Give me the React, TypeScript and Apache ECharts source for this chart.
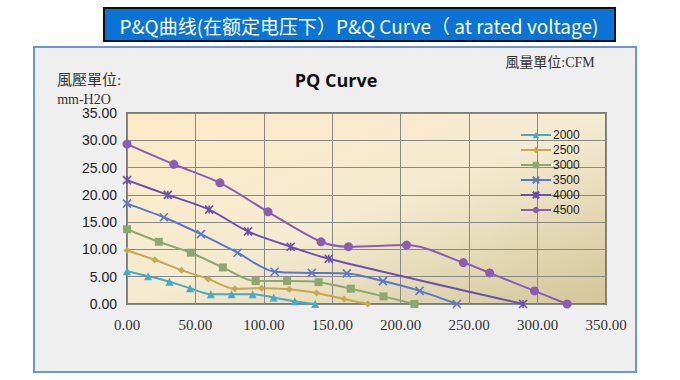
import React, { useEffect, useRef } from "react";
import * as echarts from "echarts";

const seriesNames = ["2000", "2500", "3000", "3500", "4000", "4500"];
const cfm2000 = [0, 15.4, 31, 46.1, 61.3, 76.4, 91.8, 107.2, 122.6, 137.5];
const p2000 = [6.0, 5.1, 4.1, 2.9, 1.8, 1.8, 1.8, 1.2, 0.5, 0];
const cfm2500 = [0, 20.3, 39.8, 59.3, 78.8, 98.4, 118.6, 138.6, 158.6, 176];
const p2500 = [9.8, 8.1, 6.2, 4.6, 2.8, 2.9, 2.7, 2.0, 0.9, 0];
const cfm3000 = [0, 23.2, 46.6, 70, 94, 117, 140, 163.5, 187.4, 210];
const p3000 = [13.7, 11.4, 9.4, 6.7, 4.2, 4.2, 4.0, 2.8, 1.4, 0];
const cfm3500 = [0, 26.9, 54, 80.8, 107.9, 135, 160.6, 187, 213.8, 241];
const p3500 = [18.4, 15.9, 12.8, 9.4, 5.9, 5.7, 5.6, 4.2, 2.4, 0];
const cfm4000 = [0, 29.8, 60, 88.4, 119.6, 147.4, 289.4];
const p4000 = [22.7, 20.0, 17.3, 13.3, 10.5, 8.3, 0];
const cfm4500 = [0, 34.2, 67.9, 103, 141.8, 161.8, 204.3, 245.7, 265, 297.7, 321.6];
const p4500 = [29.3, 25.6, 22.2, 16.9, 11.4, 10.5, 10.8, 7.6, 5.7, 2.4, 0];

const xs = [cfm2000, cfm2500, cfm3000, cfm3500, cfm4000, cfm4500];
const ys = [p2000, p2500, p3000, p3500, p4000, p4500];
const colors = ["#4aa9c4", "#c9a651", "#8aa870", "#5b77c9", "#6b50b2", "#8a5db5"];
const symbols = [
  "triangle",
  "diamond",
  "rect",
  "path://M0,0L10,10M10,0L0,10",
  "path://M0,0L10,10M10,0L0,10M5,0L5,10",
  "circle",
];
const symbolSizes = [8, 7, 8, 8, 8, 9];

const bannerText = "P&Q曲线(在额定电压下）P&Q Curve（ at rated voltage)";

export default function App() {
  const ref = useRef<HTMLDivElement>(null);
  useEffect(() => {
    if (!ref.current) return;
    const chart = echarts.init(ref.current, undefined, { renderer: "svg" });
    const serif = "'Liberation Serif', 'DejaVu Serif', 'Noto Sans CJK TC', serif";
    const series = seriesNames.map((name, i) => ({
      name,
      type: "line",
      smooth: 0.3,
      data: xs[i].map((x, j) => [x, ys[i][j]]),
      symbol: symbols[i],
      symbolSize: symbolSizes[i],
      showAllSymbol: true,
      lineStyle: { color: colors[i], width: 2 },
      itemStyle: { color: colors[i], borderColor: colors[i], borderWidth: i === 3 || i === 4 ? 1.6 : 0 },
      z: 3,
    }));
    chart.setOption({
      animation: false,
      backgroundColor: "#ffffff",
      graphic: [
        {
          type: "rect",
          shape: { x: 34, y: 47, width: 602, height: 325 },
          style: { fill: "#efefef", stroke: "#6a98d4", lineWidth: 2 },
          z: -10,
        },
        {
          type: "rect",
          shape: { x: 104, y: 8, width: 511, height: 33 },
          style: { fill: "#0a74d6", stroke: "#111111", lineWidth: 2 },
          z: -10,
        },
        {
          type: "text",
          x: 359,
          y: 25,
          style: {
            text: bannerText,
            fill: "#ffffff",
            font: "19px 'Noto Sans CJK SC', 'Open Sans', sans-serif",
            textAlign: "center",
            textVerticalAlign: "middle",
          },
        },
        {
          type: "text",
          x: 336,
          y: 80,
          style: {
            text: "PQ Curve",
            fill: "#111111",
            font: "bold 18px 'Open Sans', 'Liberation Sans', sans-serif",
            textAlign: "center",
            textVerticalAlign: "middle",
          },
        },
        {
          type: "text",
          x: 89,
          y: 80,
          style: {
            text: "風壓單位:",
            fill: "#333333",
            font: `15px ${serif}`,
            textAlign: "center",
            textVerticalAlign: "middle",
          },
        },
        {
          type: "text",
          x: 84,
          y: 99,
          style: {
            text: "mm-H2O",
            fill: "#333333",
            font: `14px ${serif}`,
            textAlign: "center",
            textVerticalAlign: "middle",
          },
        },
        {
          type: "text",
          x: 550,
          y: 62,
          style: {
            text: "風量單位:CFM",
            fill: "#333333",
            font: `14px ${serif}`,
            textAlign: "center",
            textVerticalAlign: "middle",
          },
        },
      ],
      grid: {
        left: 127,
        top: 113,
        right: 74,
        bottom: 76,
        show: true,
        borderColor: "#7a7a7a",
        borderWidth: 2,
        backgroundColor: new echarts.graphic.LinearGradient(0, 0, 1, 1, [
          { offset: 0, color: "#fdeac6" },
          { offset: 0.5, color: "#f5ebd1" },
          { offset: 1, color: "#d3c699" },
        ]),
      },
      legend: {
        orient: "vertical",
        left: 520,
        top: 128,
        itemWidth: 30,
        itemHeight: 8,
        itemGap: 1,
        padding: 0,
        data: seriesNames,
        textStyle: {
          fontFamily: "'Liberation Sans', sans-serif",
          fontSize: 12,
          lineHeight: 14,
          color: "#222222",
          padding: [0, 0, 0, -3],
        },
      },
      xAxis: {
        type: "value",
        min: 0,
        max: 350,
        interval: 50,
        axisLine: { show: false },
        axisTick: { show: false },
        splitLine: { show: true, lineStyle: { color: "#888888", width: 1 } },
        axisLabel: {
          formatter: (v: number) => v.toFixed(2),
          fontFamily: serif,
          fontSize: 15,
          color: "#333333",
          margin: 13,
        },
      },
      yAxis: {
        type: "value",
        min: 0,
        max: 35,
        interval: 5,
        axisLine: { show: false },
        axisTick: { show: false },
        splitLine: { show: true, lineStyle: { color: "#888888", width: 1 } },
        axisLabel: {
          formatter: (v: number) => v.toFixed(2),
          fontFamily: "'Liberation Sans', sans-serif",
          fontSize: 14,
          color: "#222222",
          margin: 10,
        },
      },
      series,
    });
    return () => chart.dispose();
  }, []);
  return (
    <div
      ref={ref}
      style={{ position: "absolute", left: 0, top: 0, width: 680, height: 380 }}
    />
  );
}
